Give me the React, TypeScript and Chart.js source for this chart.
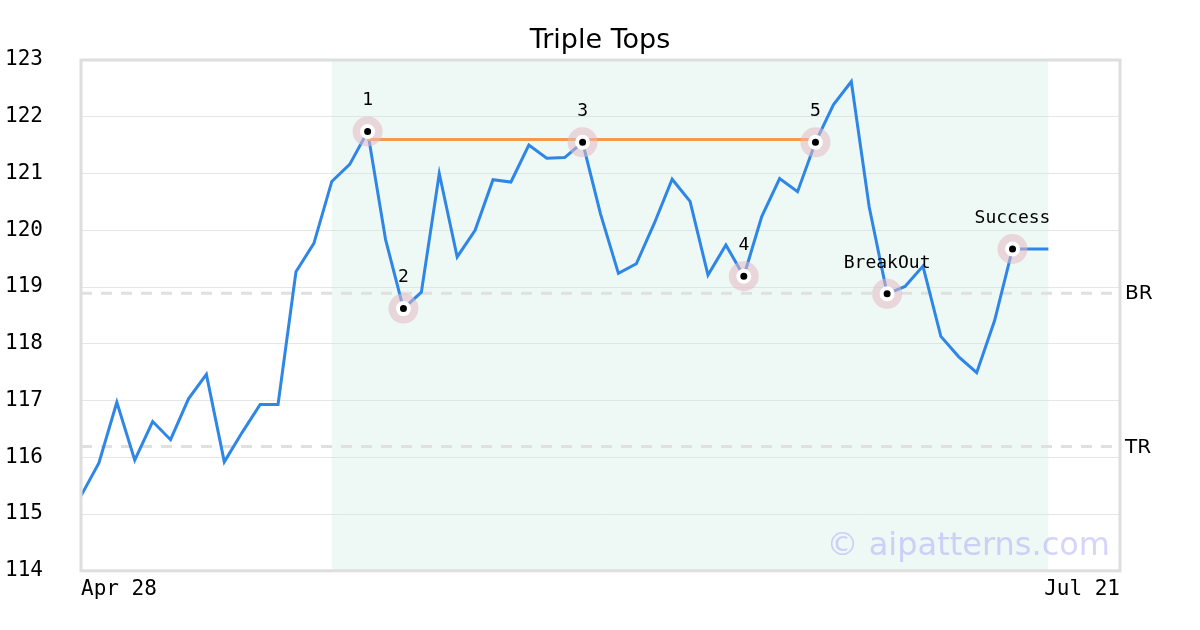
import React, { useEffect, useRef } from "react";
import { Chart, registerables } from "chart.js";

Chart.register(...registerables);

const chartTitle = "Triple Tops";
const xTickLabels = ["Apr 28", "Jul 21"];
const categoryCount = 59;
const prices = [
  115.32, 115.9, 116.97, 115.95, 116.63, 116.31, 117.03, 117.46, 115.92, 116.44,
  116.93, 116.93, 119.27, 119.77, 120.86, 121.16, 121.74, 119.84, 118.62, 118.91,
  121.0, 119.53, 120.0, 120.89, 120.85, 121.5, 121.27, 121.28, 121.55, 120.29,
  119.24, 119.41, 120.12, 120.9, 120.51, 119.21, 119.74, 119.19, 120.24, 120.91,
  120.68, 121.55, 122.21, 122.62, 120.41, 118.88, 119.01, 119.37, 118.13, 117.77,
  117.49, 118.41, 119.67, 119.67, 119.67,
];
const markerIndices = [16, 18, 28, 37, 41, 45, 52];
const markerLabels = ["1", "2", "3", "4", "5", "BreakOut", "Success"];
const resistanceStart = 16;
const resistanceEnd = 41;
const resistanceValue = 121.6;
const levelNames = ["BR", "TR"];
const levelValues = [118.89, 116.19];
const shadeStart = 14;
const shadeEnd = 54;
const watermark = "© aipatterns.com";

const MONO = "'DejaVu Sans Mono', monospace";
const SANS = "'DejaVu Sans', sans-serif";

export default function App() {
  const ref = useRef<HTMLCanvasElement | null>(null);

  useEffect(() => {
    document.body.style.margin = "0";
    const canvas = ref.current;
    if (!canvas) return;

    const labels = Array.from({ length: categoryCount }, (_, i) => String(i));
    const markerData = labels.map((_, i) =>
      markerIndices.includes(i) ? prices[i] : null
    );
    const resistanceData = labels.map((_, i) =>
      i >= resistanceStart && i <= resistanceEnd ? resistanceValue : null
    );

    const decorPlugin = {
      id: "decor",
      beforeDatasetsDraw(chart: any) {
        const { ctx, chartArea, scales } = chart;
        const x = scales.x;
        const y = scales.y;
        ctx.save();
        // shaded pattern region
        const x0 = x.getPixelForValue(shadeStart);
        const x1 = x.getPixelForValue(shadeEnd);
        ctx.fillStyle = "rgba(200,232,218,0.3)";
        ctx.fillRect(x0, chartArea.top, x1 - x0, chartArea.bottom - chartArea.top);
        // level lines
        ctx.strokeStyle = "#e0e0e0";
        ctx.lineWidth = 3;
        ctx.setLineDash([11, 9]);
        levelValues.forEach((v) => {
          const py = y.getPixelForValue(v);
          ctx.beginPath();
          ctx.moveTo(chartArea.left, py);
          ctx.lineTo(chartArea.right, py);
          ctx.stroke();
        });
        ctx.setLineDash([]);
        ctx.restore();
      },
      afterDatasetsDraw(chart: any) {
        const { ctx, chartArea, scales, width } = chart;
        const x = scales.x;
        const y = scales.y;
        ctx.save();
        // title
        ctx.fillStyle = "#000";
        ctx.font = `27px ${SANS}`;
        ctx.textAlign = "center";
        ctx.textBaseline = "middle";
        ctx.fillText(chartTitle, width / 2, 41);
        // marker labels
        ctx.font = `18px ${MONO}`;
        markerIndices.forEach((idx, k) => {
          const px = x.getPixelForValue(idx);
          const py = y.getPixelForValue(prices[idx]);
          ctx.fillText(markerLabels[k], px, py - 31);
        });
        // level names
        ctx.font = `20px ${SANS}`;
        ctx.textAlign = "left";
        levelValues.forEach((v, k) => {
          ctx.fillText(levelNames[k], chartArea.right + 5, y.getPixelForValue(v) + 1);
        });
        // border
        ctx.strokeStyle = "#dedede";
        ctx.lineWidth = 3;
        ctx.strokeRect(
          chartArea.left,
          chartArea.top,
          chartArea.right - chartArea.left,
          chartArea.bottom - chartArea.top
        );
        // watermark
        ctx.fillStyle = "rgba(160,160,250,0.45)";
        ctx.font = `32px ${SANS}`;
        ctx.textAlign = "right";
        ctx.textBaseline = "alphabetic";
        ctx.fillText(watermark, chartArea.right - 10, chartArea.bottom - 16);
        ctx.restore();
      },
    };

    const chart = new Chart(canvas, {
      type: "line",
      data: {
        labels,
        datasets: [
          {
            label: "markers",
            data: markerData,
            showLine: false,
            pointRadius: 5.5,
            pointHoverRadius: 5.5,
            pointBackgroundColor: "#000",
            pointBorderColor: "#fff",
            pointBorderWidth: 4,
            order: 0,
          },
          {
            label: "halo",
            data: markerData,
            showLine: false,
            pointRadius: 15,
            pointHoverRadius: 15,
            pointBackgroundColor: "rgba(226,186,196,0.55)",
            pointBorderWidth: 0,
            order: 1,
          },
          {
            label: "resistance",
            data: resistanceData,
            borderColor: "#f7994a",
            borderWidth: 3,
            pointRadius: 0,
            spanGaps: false,
            order: 2,
          },
          {
            label: "price",
            data: prices,
            borderColor: "#2e86e6",
            borderWidth: 3,
            pointRadius: 0,
            tension: 0,
            order: 3,
          },
        ],
      },
      options: {
        animation: false,
        responsive: false,
        devicePixelRatio: 1,
        layout: { padding: { left: 5, right: 80, top: 60, bottom: 22 } },
        plugins: {
          legend: { display: false },
          tooltip: { enabled: false },
          title: { display: false },
        },
        scales: {
          x: {
            type: "category",
            offset: false,
            grid: { display: false, drawTicks: false },
            border: { display: false },
            ticks: {
              autoSkip: false,
              maxRotation: 0,
              minRotation: 0,
              align: "inner",
              padding: 6,
              color: "#000",
              font: { family: MONO, size: 21 },
              callback: (_v: any, i: number) =>
                i === 0 ? xTickLabels[0] : i === categoryCount - 1 ? xTickLabels[1] : "",
            },
          },
          y: {
            min: 114,
            max: 123,
            grid: { color: "#e6e6e6", lineWidth: 1, drawTicks: false },
            border: { display: false },
            ticks: {
              stepSize: 1,
              crossAlign: "far",
              padding: 0,
              color: "#000",
              font: { family: MONO, size: 21 },
            },
            afterFit: (scale: any) => {
              scale.width = 76;
            },
          },
        },
      },
      plugins: [decorPlugin],
    } as any);

    return () => chart.destroy();
  }, []);

  return (
    <div style={{ position: "fixed", left: 0, top: 0, width: 1200, height: 630 }}>
      <canvas ref={ref} width={1200} height={630} style={{ display: "block" }} />
    </div>
  );
}
